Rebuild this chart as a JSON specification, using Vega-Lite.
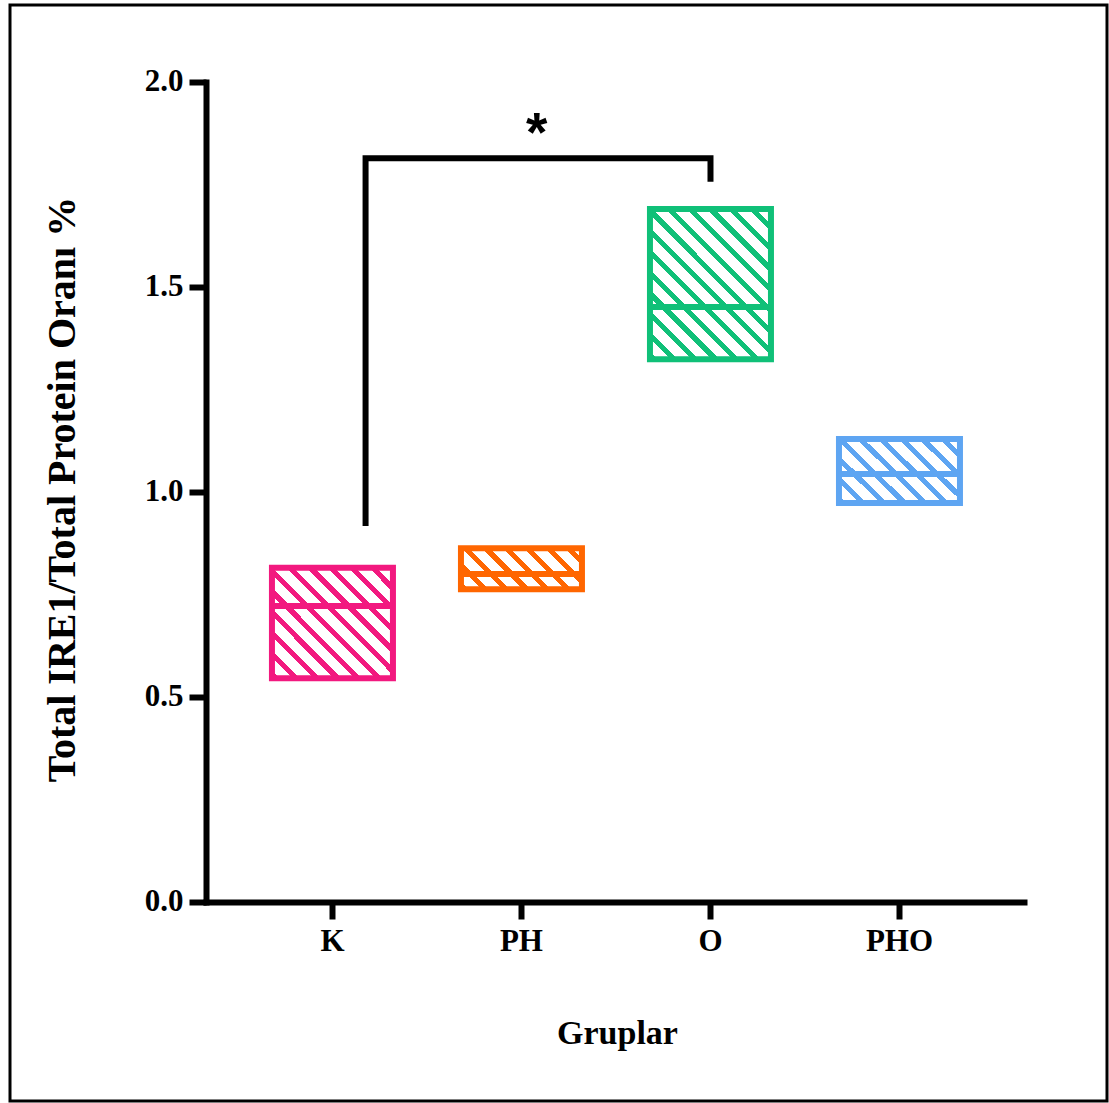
{
  "$schema": "https://vega.github.io/schema/vega-lite/v6.json",
  "autosize": "none",
  "padding": {"left": 10, "top": 5, "right": 2, "bottom": 2},
  "width": 1097,
  "height": 1096,
  "background": "white",
  "config": {
    "view": {"stroke": "black", "strokeWidth": 3},
    "font": "Liberation Serif"
  },
  "data": {
    "values": [
      {"group": "K", "min": 0.546, "max": 0.815, "median": 0.722},
      {"group": "PH", "min": 0.763, "max": 0.863, "median": 0.8},
      {"group": "O", "min": 1.324, "max": 1.69, "median": 1.451},
      {"group": "PHO", "min": 0.973, "max": 1.129, "median": 1.044}
    ]
  },
  "resolve": {"scale": {"x": "independent"}},
  "layer": [
    {
      "mark": {"type": "bar", "strokeWidth": 6, "strokeJoin": "miter", "width": 121},
      "encoding": {
        "x": {
          "field": "group", "type": "nominal", "sort": ["K", "PH", "O", "PHO"],
          "scale": {"paddingInner": 0.196, "paddingOuter": 1, "align": 0.652},
          "axis": {
            "title": "Gruplar", "orient": "bottom", "offset": -199,
            "labelAngle": 0, "labelFont": "Liberation Serif", "labelFontWeight": "bold", "labelFontSize": 31, "labelColor": "black", "labelPadding": 7,
            "tickSize": 17, "tickWidth": 6, "tickColor": "black",
            "domainColor": "black", "domainWidth": 6, "domainDash": [0, 193, 824, 2000],
            "titleFont": "Liberation Serif", "titleFontWeight": "bold", "titleFontSize": 34, "titleColor": "black",
            "titleX": 607, "titleY": 131, "titleAlign": "center", "titleBaseline": "middle"
          }
        },
        "y": {
          "field": "min", "type": "quantitative",
          "scale": {"domain": [-0.4854, 2.1878], "nice": false, "zero": false},
          "axis": {
            "title": "Total IRE1/Total Protein Oranı %", "orient": "left", "offset": -196,
            "values": [0, 0.5, 1, 1.5, 2], "format": ".1f", "grid": false,
            "labelFont": "Liberation Serif", "labelFontWeight": "bold", "labelFontSize": 31, "labelColor": "black", "labelPadding": 6,
            "tickSize": 17, "tickWidth": 6, "tickColor": "black",
            "domainColor": "black", "domainWidth": 6, "domainDash": [0, 196, 826, 2000],
            "titleFont": "Liberation Serif", "titleFontWeight": "bold", "titleFontSize": 40, "titleColor": "black",
            "titleX": -144, "titleY": 484, "titleAngle": 270, "titleAlign": "center", "titleBaseline": "middle"
          }
        },
        "y2": {"field": "max"},
        "stroke": {
          "field": "group", "type": "nominal",
          "scale": {"domain": ["K", "PH", "O", "PHO"], "range": ["#F2197F", "#FF6600", "#10C078", "#5EA5F2"]},
          "legend": null
        },
        "fill": {
          "condition": [
            {"test": "datum.group === 'K'", "value": {"gradient": "linear", "x1": 0, "y1": 1, "x2": 1.045, "y2": 0.05, "stops": [
              {"offset": 0, "color": "#F2197F"}, {"offset": 0.0314, "color": "#F2197F"}, {"offset": 0.0314, "color": "#FFFFFF"}, {"offset": 0.0896, "color": "#FFFFFF"},
              {"offset": 0.0896, "color": "#F2197F"}, {"offset": 0.121, "color": "#F2197F"}, {"offset": 0.121, "color": "#FFFFFF"}, {"offset": 0.1792, "color": "#FFFFFF"},
              {"offset": 0.1792, "color": "#F2197F"}, {"offset": 0.2106, "color": "#F2197F"}, {"offset": 0.2106, "color": "#FFFFFF"}, {"offset": 0.2688, "color": "#FFFFFF"},
              {"offset": 0.2688, "color": "#F2197F"}, {"offset": 0.3002, "color": "#F2197F"}, {"offset": 0.3002, "color": "#FFFFFF"}, {"offset": 0.3584, "color": "#FFFFFF"},
              {"offset": 0.3584, "color": "#F2197F"}, {"offset": 0.3898, "color": "#F2197F"}, {"offset": 0.3898, "color": "#FFFFFF"}, {"offset": 0.448, "color": "#FFFFFF"},
              {"offset": 0.448, "color": "#F2197F"}, {"offset": 0.4794, "color": "#F2197F"}, {"offset": 0.4794, "color": "#FFFFFF"}, {"offset": 0.5376, "color": "#FFFFFF"},
              {"offset": 0.5376, "color": "#F2197F"}, {"offset": 0.569, "color": "#F2197F"}, {"offset": 0.569, "color": "#FFFFFF"}, {"offset": 0.6272, "color": "#FFFFFF"},
              {"offset": 0.6272, "color": "#F2197F"}, {"offset": 0.6586, "color": "#F2197F"}, {"offset": 0.6586, "color": "#FFFFFF"}, {"offset": 0.7168, "color": "#FFFFFF"},
              {"offset": 0.7168, "color": "#F2197F"}, {"offset": 0.7482, "color": "#F2197F"}, {"offset": 0.7482, "color": "#FFFFFF"}, {"offset": 0.8064, "color": "#FFFFFF"},
              {"offset": 0.8064, "color": "#F2197F"}, {"offset": 0.8378, "color": "#F2197F"}, {"offset": 0.8378, "color": "#FFFFFF"}, {"offset": 0.896, "color": "#FFFFFF"},
              {"offset": 0.896, "color": "#F2197F"}, {"offset": 0.9274, "color": "#F2197F"}, {"offset": 0.9274, "color": "#FFFFFF"}, {"offset": 0.9856, "color": "#FFFFFF"},
              {"offset": 0.9856, "color": "#F2197F"}, {"offset": 1, "color": "#F2197F"}
            ]}},
            {"test": "datum.group === 'PH'", "value": {"gradient": "linear", "x1": 0, "y1": 1, "x2": 1.201, "y2": 0.593, "stops": [
              {"offset": 0, "color": "#FF6600"}, {"offset": 0.0447, "color": "#FF6600"}, {"offset": 0.0447, "color": "#FFFFFF"}, {"offset": 0.1278, "color": "#FFFFFF"},
              {"offset": 0.1278, "color": "#FF6600"}, {"offset": 0.1725, "color": "#FF6600"}, {"offset": 0.1725, "color": "#FFFFFF"}, {"offset": 0.2556, "color": "#FFFFFF"},
              {"offset": 0.2556, "color": "#FF6600"}, {"offset": 0.3003, "color": "#FF6600"}, {"offset": 0.3003, "color": "#FFFFFF"}, {"offset": 0.3834, "color": "#FFFFFF"},
              {"offset": 0.3834, "color": "#FF6600"}, {"offset": 0.4281, "color": "#FF6600"}, {"offset": 0.4281, "color": "#FFFFFF"}, {"offset": 0.5112, "color": "#FFFFFF"},
              {"offset": 0.5112, "color": "#FF6600"}, {"offset": 0.5559, "color": "#FF6600"}, {"offset": 0.5559, "color": "#FFFFFF"}, {"offset": 0.639, "color": "#FFFFFF"},
              {"offset": 0.639, "color": "#FF6600"}, {"offset": 0.6837, "color": "#FF6600"}, {"offset": 0.6837, "color": "#FFFFFF"}, {"offset": 0.7668, "color": "#FFFFFF"},
              {"offset": 0.7668, "color": "#FF6600"}, {"offset": 0.8115, "color": "#FF6600"}, {"offset": 0.8115, "color": "#FFFFFF"}, {"offset": 0.8946, "color": "#FFFFFF"},
              {"offset": 0.8946, "color": "#FF6600"}, {"offset": 0.9393, "color": "#FF6600"}, {"offset": 0.9393, "color": "#FFFFFF"}, {"offset": 1, "color": "#FFFFFF"}
            ]}},
            {"test": "datum.group === 'O'", "value": {"gradient": "linear", "x1": 0, "y1": 1, "x2": 0.883, "y2": -0.0945, "stops": [
              {"offset": 0, "color": "#10C078"}, {"offset": 0.0267, "color": "#10C078"}, {"offset": 0.0267, "color": "#FFFFFF"}, {"offset": 0.0764, "color": "#FFFFFF"},
              {"offset": 0.0764, "color": "#10C078"}, {"offset": 0.1031, "color": "#10C078"}, {"offset": 0.1031, "color": "#FFFFFF"}, {"offset": 0.1528, "color": "#FFFFFF"},
              {"offset": 0.1528, "color": "#10C078"}, {"offset": 0.1795, "color": "#10C078"}, {"offset": 0.1795, "color": "#FFFFFF"}, {"offset": 0.2291, "color": "#FFFFFF"},
              {"offset": 0.2291, "color": "#10C078"}, {"offset": 0.2558, "color": "#10C078"}, {"offset": 0.2558, "color": "#FFFFFF"}, {"offset": 0.3055, "color": "#FFFFFF"},
              {"offset": 0.3055, "color": "#10C078"}, {"offset": 0.3322, "color": "#10C078"}, {"offset": 0.3322, "color": "#FFFFFF"}, {"offset": 0.3819, "color": "#FFFFFF"},
              {"offset": 0.3819, "color": "#10C078"}, {"offset": 0.4086, "color": "#10C078"}, {"offset": 0.4086, "color": "#FFFFFF"}, {"offset": 0.4583, "color": "#FFFFFF"},
              {"offset": 0.4583, "color": "#10C078"}, {"offset": 0.485, "color": "#10C078"}, {"offset": 0.485, "color": "#FFFFFF"}, {"offset": 0.5347, "color": "#FFFFFF"},
              {"offset": 0.5347, "color": "#10C078"}, {"offset": 0.5614, "color": "#10C078"}, {"offset": 0.5614, "color": "#FFFFFF"}, {"offset": 0.611, "color": "#FFFFFF"},
              {"offset": 0.611, "color": "#10C078"}, {"offset": 0.6377, "color": "#10C078"}, {"offset": 0.6377, "color": "#FFFFFF"}, {"offset": 0.6874, "color": "#FFFFFF"},
              {"offset": 0.6874, "color": "#10C078"}, {"offset": 0.7141, "color": "#10C078"}, {"offset": 0.7141, "color": "#FFFFFF"}, {"offset": 0.7638, "color": "#FFFFFF"},
              {"offset": 0.7638, "color": "#10C078"}, {"offset": 0.7905, "color": "#10C078"}, {"offset": 0.7905, "color": "#FFFFFF"}, {"offset": 0.8402, "color": "#FFFFFF"},
              {"offset": 0.8402, "color": "#10C078"}, {"offset": 0.8669, "color": "#10C078"}, {"offset": 0.8669, "color": "#FFFFFF"}, {"offset": 0.9166, "color": "#FFFFFF"},
              {"offset": 0.9166, "color": "#10C078"}, {"offset": 0.9433, "color": "#10C078"}, {"offset": 0.9433, "color": "#FFFFFF"}, {"offset": 0.9929, "color": "#FFFFFF"},
              {"offset": 0.9929, "color": "#10C078"}, {"offset": 1, "color": "#10C078"}
            ]}},
            {"test": "datum.group === 'PHO'", "value": {"gradient": "linear", "x1": 0, "y1": 1, "x2": 1.193, "y2": 0.359, "stops": [
              {"offset": 0, "color": "#5EA5F2"}, {"offset": 0.039, "color": "#5EA5F2"}, {"offset": 0.039, "color": "#FFFFFF"}, {"offset": 0.1113, "color": "#FFFFFF"},
              {"offset": 0.1113, "color": "#5EA5F2"}, {"offset": 0.1503, "color": "#5EA5F2"}, {"offset": 0.1503, "color": "#FFFFFF"}, {"offset": 0.2226, "color": "#FFFFFF"},
              {"offset": 0.2226, "color": "#5EA5F2"}, {"offset": 0.2616, "color": "#5EA5F2"}, {"offset": 0.2616, "color": "#FFFFFF"}, {"offset": 0.3339, "color": "#FFFFFF"},
              {"offset": 0.3339, "color": "#5EA5F2"}, {"offset": 0.3729, "color": "#5EA5F2"}, {"offset": 0.3729, "color": "#FFFFFF"}, {"offset": 0.4452, "color": "#FFFFFF"},
              {"offset": 0.4452, "color": "#5EA5F2"}, {"offset": 0.4842, "color": "#5EA5F2"}, {"offset": 0.4842, "color": "#FFFFFF"}, {"offset": 0.5565, "color": "#FFFFFF"},
              {"offset": 0.5565, "color": "#5EA5F2"}, {"offset": 0.5955, "color": "#5EA5F2"}, {"offset": 0.5955, "color": "#FFFFFF"}, {"offset": 0.6678, "color": "#FFFFFF"},
              {"offset": 0.6678, "color": "#5EA5F2"}, {"offset": 0.7068, "color": "#5EA5F2"}, {"offset": 0.7068, "color": "#FFFFFF"}, {"offset": 0.7791, "color": "#FFFFFF"},
              {"offset": 0.7791, "color": "#5EA5F2"}, {"offset": 0.8181, "color": "#5EA5F2"}, {"offset": 0.8181, "color": "#FFFFFF"}, {"offset": 0.8904, "color": "#FFFFFF"},
              {"offset": 0.8904, "color": "#5EA5F2"}, {"offset": 0.9294, "color": "#5EA5F2"}, {"offset": 0.9294, "color": "#FFFFFF"}, {"offset": 1, "color": "#FFFFFF"}
            ]}}
          ],
          "value": "white"
        }
      }
    },
    {
      "mark": {"type": "tick", "orient": "horizontal", "thickness": 6, "size": 121},
      "encoding": {
        "x": {"field": "group", "type": "nominal", "sort": ["K", "PH", "O", "PHO"],
          "scale": {"paddingInner": 0.196, "paddingOuter": 1, "align": 0.652}, "axis": null},
        "y": {"field": "median", "type": "quantitative"},
        "color": {
          "field": "group", "type": "nominal",
          "scale": {"domain": ["K", "PH", "O", "PHO"], "range": ["#F2197F", "#FF6600", "#10C078", "#5EA5F2"]},
          "legend": null
        },
        "opacity": {"value": 1}
      }
    },
    {
      "data": {
        "values": [
          {"pos": 0.175, "level": 0.917, "step": 1},
          {"pos": 0.175, "level": 1.814, "step": 2},
          {"pos": 2.0, "level": 1.814, "step": 3},
          {"pos": 2.0, "level": 1.757, "step": 4}
        ]
      },
      "mark": {"type": "line", "color": "black", "strokeWidth": 6, "strokeJoin": "miter", "strokeCap": "butt"},
      "encoding": {
        "x": {"field": "pos", "type": "quantitative", "scale": {"domain": [-1.7063, 4.0979], "nice": false, "zero": false}, "axis": null},
        "y": {"field": "level", "type": "quantitative"},
        "order": {"field": "step", "type": "quantitative"}
      }
    },
    {
      "data": {"values": [{"pos": 1.08, "level": 1.874, "label": "*"}]},
      "mark": {"type": "text", "font": "Liberation Sans", "fontWeight": "bold", "fontSize": 55, "color": "black", "baseline": "middle", "align": "center"},
      "encoding": {
        "x": {"field": "pos", "type": "quantitative", "scale": {"domain": [-1.7063, 4.0979], "nice": false, "zero": false}, "axis": null},
        "y": {"field": "level", "type": "quantitative"},
        "text": {"field": "label"}
      }
    }
  ]
}
